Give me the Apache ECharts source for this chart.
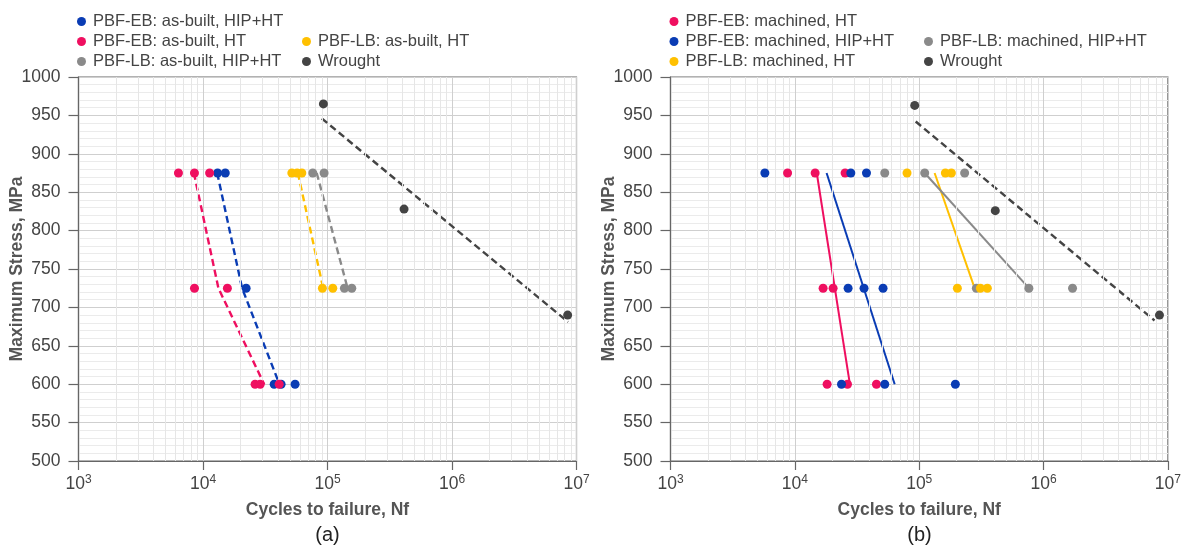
<!DOCTYPE html>
<html>
<head>
<meta charset="utf-8">
<script src="https://cdn.jsdelivr.net/npm/echarts@6/dist/echarts.min.js"></script>
<style>
  html, body { margin: 0; padding: 0; background: #ffffff; }
  #chart { width: 1184px; height: 549px; }
</style>
</head>
<body>
<div id="chart"></div>
<script>
// Fatigue life (S-N) data: [cycles to failure, maximum stress in MPa]

// (a) as-built surfaces
const ebAsBuiltHipHt = [[13100, 875], [15100, 875], [22200, 725], [37300, 600], [42400, 600], [54900, 600]];
const ebAsBuiltHt = [[6350, 875], [8540, 875], [11300, 875], [8540, 725], [15700, 725], [26200, 600], [28800, 600], [40900, 600]];
const lbAsBuiltHt = [[51700, 875], [57000, 875], [62200, 875], [91000, 725], [110300, 725]];
const lbAsBuiltHipHt = [[76200, 875], [93900, 875], [136700, 725], [156700, 725]];
const wroughtA = [[92700, 965], [412000, 828], [8490000, 690]];

// (a) trend lines
const ebAsBuiltHtFit = [[8450, 875], [13300, 725], [31000, 600]];
const ebAsBuiltHipHtFit = [[13000, 875], [20600, 725], [41100, 600]];
const lbAsBuiltHtFit = [[57800, 875], [92300, 725]];
const lbAsBuiltHipHtFit = [[81900, 875], [145000, 725]];
const wroughtFitA = [[90000, 946], [8550000, 681]];

// (b) machined surfaces
const ebMachinedHt = [[8740, 875], [14560, 875], [25350, 875], [16870, 725], [20300, 725], [18170, 600], [26500, 600], [45300, 600]];
const ebMachinedHipHt = [[5740, 875], [28180, 875], [37660, 875], [26800, 725], [36000, 725], [51200, 725], [23720, 600], [52830, 600], [195300, 600]];
const lbMachinedHt = [[79800, 875], [162300, 875], [181400, 875], [202700, 725], [310300, 725], [353000, 725]];
const lbMachinedHipHt = [[52830, 875], [110700, 875], [231900, 875], [288000, 725], [762000, 725], [1710000, 725]];
const wroughtB = [[92000, 963], [409000, 826], [8550000, 690]];

// (b) trend lines
const ebMachinedHtFit = [[15000, 875], [27700, 600]];
const ebMachinedHipHtFit = [[18000, 875], [63500, 600]];
const lbMachinedHtFit = [[133000, 875], [279000, 725]];
const lbMachinedHipHtFit = [[110700, 875], [762000, 725]];
const wroughtFitB = [[93700, 942], [7800000, 683]];

// axis ranges
const decadeExponents = [3, 4, 5, 6, 7];
const stressMin = 500, stressMax = 1000, stressStep = 50;
const panelLabels = ['(a)', '(b)'];

const PINK = '#ef0f60', BLUE = '#0a3cb4', YELLOW = '#ffc000', GREY = '#8a8a8a', DARK = '#444444';
const FONT = 'Liberation Sans';
const TEXT = '#444444';

// minor log gridlines at 2..9 x 10^n
const minorDecadeLines = [];
for (let i = 0; i < decadeExponents.length - 1; i++) {
  for (let m = 2; m <= 9; m++) minorDecadeLines.push({ xAxis: m * Math.pow(10, decadeExponents[i]) });
}

const grids = [
  { left: 78.5, top: 77, width: 498, height: 384 },
  { left: 670.5, top: 77, width: 498, height: 384 }
];

function xAxisFor(idx) {
  return {
    type: 'log', gridIndex: idx, logBase: 10,
    min: Math.pow(10, decadeExponents[0]),
    max: Math.pow(10, decadeExponents[decadeExponents.length - 1]),
    splitNumber: decadeExponents.length - 1,
    name: 'Cycles to failure, Nf', nameLocation: 'middle', nameGap: 40,
    nameTextStyle: { fontSize: 17.5, fontWeight: 'bold', color: '#555', fontFamily: FONT },
    axisLine: { lineStyle: { color: '#666', width: 1.2 } },
    axisTick: { show: true, length: 9, lineStyle: { color: '#666', width: 1.2 } },
    axisLabel: {
      margin: 13,
      formatter: v => '{b|10}{s|' + Math.round(Math.log10(v)) + '}',
      rich: {
        b: { fontSize: 17.5, lineHeight: 20, color: TEXT, fontFamily: FONT },
        s: { fontSize: 12, lineHeight: 12, verticalAlign: 'top', color: TEXT, fontFamily: FONT }
      }
    },
    splitLine: { show: true, lineStyle: { color: '#cfcfcf', width: 1 } }
  };
}

function yAxisFor(idx) {
  return {
    type: 'value', gridIndex: idx, min: stressMin, max: stressMax, interval: stressStep,
    name: 'Maximum Stress, MPa', nameLocation: 'middle', nameGap: 52, nameMoveOverlap: false,
    nameTextStyle: { fontSize: 17.5, fontWeight: 'bold', color: '#555', fontFamily: FONT },
    axisLine: { show: true, lineStyle: { color: '#666', width: 1.2 } },
    axisTick: { show: true, length: 10, lineStyle: { color: '#666', width: 1.2 } },
    axisLabel: { margin: 18, fontSize: 17.5, color: TEXT, fontFamily: FONT, formatter: v => String(v) },
    splitLine: { show: true, lineStyle: { color: '#cfcfcf', width: 1 } },
    minorTick: { show: false, splitNumber: 5 },
    minorSplitLine: { show: true, lineStyle: { color: '#ebebeb', width: 1 } }
  };
}

function points(name, data, color, idx) {
  return {
    name, type: 'scatter', xAxisIndex: idx, yAxisIndex: idx, data,
    symbol: 'circle', symbolSize: 9, z: 5,
    itemStyle: { color, opacity: 1 }
  };
}

function fit(data, color, idx, dashed) {
  return {
    type: 'line', xAxisIndex: idx, yAxisIndex: idx, data,
    showSymbol: false, symbol: 'none', z: 4, silent: true,
    lineStyle: { color, width: dashed ? 2.4 : 2, type: dashed ? [7, 4] : 'solid' }
  };
}

function minorGrid(idx) {
  return {
    type: 'line', xAxisIndex: idx, yAxisIndex: idx, data: [], z: 1, silent: true,
    markLine: {
      silent: true, symbol: 'none', label: { show: false },
      lineStyle: { color: '#e6e6e6', width: 1, type: 'solid' },
      data: minorDecadeLines
    }
  };
}

function legendCell(name, left, top) {
  return {
    data: [name], left, top, padding: 0, orient: 'horizontal',
    icon: 'circle', itemWidth: 9, itemHeight: 9, selectedMode: false,
    itemStyle: { opacity: 1 },
    textStyle: { fontSize: 16.5, color: TEXT, fontFamily: FONT, padding: [0, 0, 0, 2] }
  };
}

const option = {
  backgroundColor: '#ffffff',
  animation: false,
  textStyle: { fontFamily: FONT },
  grid: grids.map(g => Object.assign({ show: true, borderColor: '#666', borderWidth: 1.2, backgroundColor: 'transparent' }, g)),
  xAxis: [xAxisFor(0), xAxisFor(1)],
  yAxis: [yAxisFor(0), yAxisFor(1)],
  title: panelLabels.map((t, i) => ({
    text: t, left: grids[i].left + grids[i].width / 2, top: 525, textAlign: 'center', padding: 0,
    textStyle: { fontSize: 20, fontWeight: 'normal', color: '#222', fontFamily: FONT }
  })),
  legend: [
    legendCell('PBF-EB: as-built, HIP+HT', 77, 13),
    legendCell('PBF-EB: as-built, HT', 77, 33),
    legendCell('PBF-LB: as-built, HT', 302, 33),
    legendCell('PBF-LB: as-built, HIP+HT', 77, 53),
    legendCell('Wrought', 302, 53),
    legendCell('PBF-EB: machined, HT', 669.5, 13),
    legendCell('PBF-EB: machined, HIP+HT', 669.5, 33),
    legendCell('PBF-LB: machined, HIP+HT', 924, 33),
    legendCell('PBF-LB: machined, HT', 669.5, 53),
    legendCell('Wrought', 924, 53)
  ],
  series: [
    minorGrid(0),
    minorGrid(1),
    fit(ebAsBuiltHtFit, PINK, 0, true),
    fit(ebAsBuiltHipHtFit, BLUE, 0, true),
    fit(lbAsBuiltHtFit, YELLOW, 0, true),
    fit(lbAsBuiltHipHtFit, GREY, 0, true),
    fit(wroughtFitA, DARK, 0, true),
    points('PBF-EB: as-built, HIP+HT', ebAsBuiltHipHt, BLUE, 0),
    points('PBF-EB: as-built, HT', ebAsBuiltHt, PINK, 0),
    points('PBF-LB: as-built, HT', lbAsBuiltHt, YELLOW, 0),
    points('PBF-LB: as-built, HIP+HT', lbAsBuiltHipHt, GREY, 0),
    points('Wrought', wroughtA, DARK, 0),
    fit(ebMachinedHtFit, PINK, 1, false),
    fit(ebMachinedHipHtFit, BLUE, 1, false),
    fit(lbMachinedHtFit, YELLOW, 1, false),
    fit(lbMachinedHipHtFit, GREY, 1, false),
    fit(wroughtFitB, DARK, 1, true),
    points('PBF-EB: machined, HT', ebMachinedHt, PINK, 1),
    points('PBF-EB: machined, HIP+HT', ebMachinedHipHt, BLUE, 1),
    points('PBF-LB: machined, HIP+HT', lbMachinedHipHt, GREY, 1),
    points('PBF-LB: machined, HT', lbMachinedHt, YELLOW, 1),
    points('Wrought', wroughtB, DARK, 1)
  ]
};

const chart = echarts.init(document.getElementById('chart'), null, { renderer: 'canvas' });
chart.setOption(option);
</script>
</body>
</html>
